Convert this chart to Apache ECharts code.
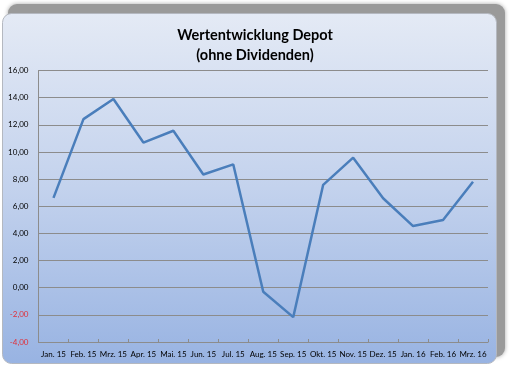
<!DOCTYPE html>
<html><head><meta charset="utf-8">
<script src="https://cdn.jsdelivr.net/npm/echarts@6/dist/echarts.min.js"></script>
<style>html,body{margin:0;padding:0;background:#fff;}#c{width:513px;height:367px;}</style>
</head><body><div id="c"></div>
<script>
const categories = ["Jan. 15","Feb. 15","Mrz. 15","Apr. 15","Mai. 15","Jun. 15","Jul. 15","Aug. 15","Sep. 15","Okt. 15","Nov. 15","Dez. 15","Jan. 16","Feb. 16","Mrz. 16"];
const values = [6.62, 12.42, 13.9, 10.69, 11.56, 8.34, 9.08, -0.3, -2.17, 7.58, 9.58, 6.59, 4.54, 4.99, 7.8];
const titleLines = ["Wertentwicklung Depot", "(ohne Dividenden)"];
const yMin = -4, yMax = 16, yStep = 2;

const chart = echarts.init(document.getElementById('c'), null, {renderer:'canvas'});
chart.setOption({
  animation: false,
  textStyle: {fontFamily: 'Lato'},
  graphic: [
    {type:'rect', z:-10, shape:{x:8, y:4, width:497, height:353, r:9},
     style:{fill:'#9a9a9a', shadowBlur:4, shadowColor:'rgba(0,0,0,0.35)'}},
    {type:'rect', z:-9, shape:{x:2.5, y:13.5, width:494, height:350, r:9},
     style:{fill:new echarts.graphic.LinearGradient(0,0,0,1,[
        {offset:0, color:'#e4eaf5'},{offset:0.5,color:'#c3d2ed'},{offset:1, color:'#98b3e2'}]),
        stroke:'#b4b8c0', lineWidth:1}}
  ],
  title: {
    text: titleLines.join('\n'), left: 250, top: 20, textAlign: 'center',
    textStyle: {fontFamily:'Lato', fontWeight:'bold', fontSize:14.5, color:'#000', lineHeight:20}
  },
  grid: {left: 38.5, right: 25, top: 70.5, bottom: 25},
  xAxis: [
    {type:'category', data: categories, boundaryGap: true, position:'bottom',
     axisLine:{show:false}, axisTick:{show:false},
     axisLabel:{fontFamily:'Lato', fontSize:8, color:'#000', margin:8, interval:0}},
    {type:'category', data: categories, boundaryGap: true, position:'bottom',
     axisLine:{show:true, onZero:true, lineStyle:{color:'#8c8c8c', width:1}},
     axisTick:{show:true, inside:true, length:3, interval:0, lineStyle:{color:'#8c8c8c'}},
     axisLabel:{show:false}}
  ],
  yAxis: {
    type:'value', min: yMin, max: yMax, interval: yStep,
    axisLine:{show:true, lineStyle:{color:'#8c8c8c', width:1}},
    axisTick:{show:false},
    splitLine:{show:true, lineStyle:{color:'#8c8c8c', width:1}},
    axisLabel:{fontFamily:'Lato', fontSize:8, margin:10,
      formatter: v => v.toFixed(2).replace('.', ','),
      color: v => (Number(v) < 0 ? '#e0303a' : '#000')}
  },
  series: [{
    type:'line', data: values, xAxisIndex: 0, symbol:'none',
    lineStyle:{color:'#4a7ebb', width:2.5}
  }]
});
</script></body></html>
